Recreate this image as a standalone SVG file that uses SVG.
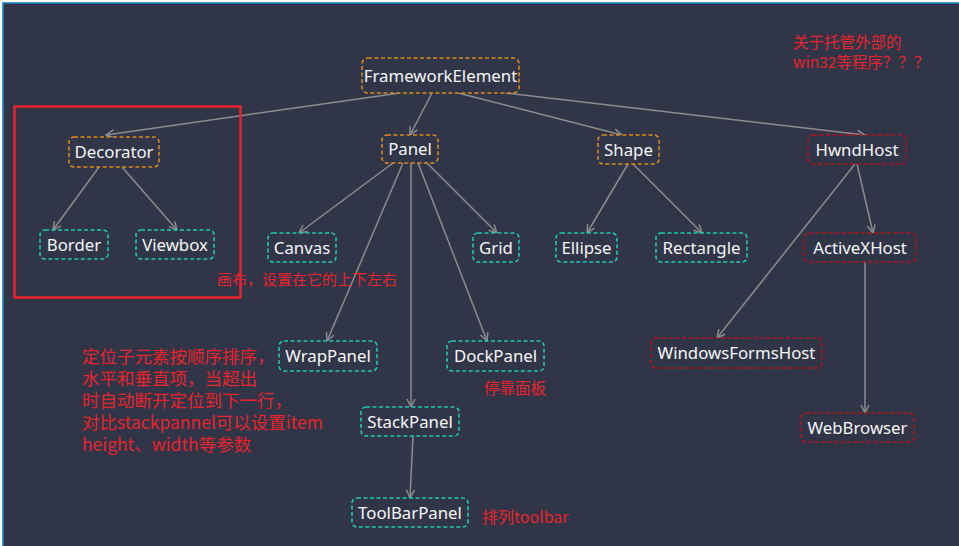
<svg xmlns="http://www.w3.org/2000/svg" width="959" height="546" viewBox="0 0 959 546">
<defs>
<style>
.n rect{fill:#313548;stroke-width:1.6;stroke-dasharray:4 2.5}
.o rect{stroke:#d98a1e}
.t rect{stroke:#21c9b4}
.r rect{stroke:#ad161e}
.n text{fill:#f6f6f6;font-family:"Noto Sans","Open Sans",sans-serif;font-size:16.8px;text-anchor:middle}
.c line{stroke:#8c8c8c;stroke-width:1.5;marker-end:url(#ah)}
.a{fill:#e8232b;font-family:"Noto Sans CJK SC","Noto Sans",sans-serif}
</style>
<marker id="ah" viewBox="0 0 10 10" refX="9" refY="5" markerWidth="10" markerHeight="10" markerUnits="userSpaceOnUse" orient="auto">
<path d="M1,1 L9,5 L1,9" fill="none" stroke="#8c8c8c" stroke-width="1.5"/>
</marker>
</defs>
<rect x="0" y="0" width="959" height="546" fill="#ffffff"/>
<rect x="3" y="3" width="960" height="550" fill="#313548" stroke="#1a86c8" stroke-width="1.6"/>

<g id="connectors" class="c">
<line x1="400" y1="93" x2="106" y2="135"/>
<line x1="432" y1="93" x2="410" y2="135"/>
<line x1="458" y1="93" x2="622" y2="135"/>
<line x1="505" y1="93" x2="865" y2="135"/>
<line x1="99" y1="167" x2="53" y2="230"/>
<line x1="122" y1="167" x2="177" y2="230"/>
<line x1="393" y1="163" x2="299" y2="233"/>
<line x1="403" y1="163" x2="327" y2="341"/>
<line x1="411" y1="163" x2="411" y2="407"/>
<line x1="418" y1="163" x2="487" y2="341"/>
<line x1="427" y1="163" x2="497" y2="233"/>
<line x1="628" y1="164" x2="587" y2="233"/>
<line x1="633" y1="164" x2="702" y2="233"/>
<line x1="857" y1="164" x2="873" y2="233"/>
<line x1="855" y1="164" x2="717" y2="338"/>
<line x1="865" y1="262" x2="865" y2="413"/>
<line x1="413" y1="436" x2="410" y2="498"/>
</g>

<g id="FrameworkElement" class="n o"><rect x="362" y="58" width="157" height="35" rx="6"/><text x="440.5" y="81.5">FrameworkElement</text></g>
<g id="Decorator" class="n o"><rect x="69" y="137" width="90" height="30" rx="5"/><text x="114" y="158">Decorator</text></g>
<g id="Panel" class="n o"><rect x="382" y="135" width="56" height="28" rx="5"/><text x="410" y="155">Panel</text></g>
<g id="Shape" class="n o"><rect x="598" y="135" width="61" height="29" rx="5"/><text x="628.5" y="155.5">Shape</text></g>
<g id="HwndHost" class="n r"><rect x="808" y="135" width="98" height="29" rx="5"/><text x="857" y="155.5">HwndHost</text></g>
<g id="Border" class="n t"><rect x="40" y="230" width="68" height="29" rx="5"/><text x="74" y="250.5">Border</text></g>
<g id="Viewbox" class="n t"><rect x="136" y="230" width="78" height="29" rx="5"/><text x="175" y="250.5">Viewbox</text></g>
<g id="Canvas" class="n t"><rect x="268" y="233" width="68" height="29" rx="5"/><text x="302" y="253.5">Canvas</text></g>
<g id="Grid" class="n t"><rect x="473" y="233" width="46" height="29" rx="5"/><text x="496" y="253.5">Grid</text></g>
<g id="Ellipse" class="n t"><rect x="556" y="233" width="61" height="29" rx="5"/><text x="586.5" y="253.5">Ellipse</text></g>
<g id="Rectangle" class="n t"><rect x="656" y="233" width="91" height="29" rx="5"/><text x="701.5" y="253.5">Rectangle</text></g>
<g id="ActiveXHost" class="n r"><rect x="804" y="233" width="112" height="29" rx="5"/><text x="860" y="253.5">ActiveXHost</text></g>
<g id="WrapPanel" class="n t"><rect x="279" y="341" width="98" height="30" rx="5"/><text x="328" y="362">WrapPanel</text></g>
<g id="DockPanel" class="n t"><rect x="447" y="341" width="97" height="30" rx="5"/><text x="495.5" y="362">DockPanel</text></g>
<g id="WindowsFormsHost" class="n r"><rect x="651" y="338" width="171" height="30" rx="5"/><text x="736.5" y="359">WindowsFormsHost</text></g>
<g id="StackPanel" class="n t"><rect x="361" y="407" width="98" height="29" rx="5"/><text x="410" y="427.5">StackPanel</text></g>
<g id="WebBrowser" class="n r"><rect x="801" y="413" width="113" height="29" rx="5"/><text x="857.5" y="433.5">WebBrowser</text></g>
<g id="ToolBarPanel" class="n t"><rect x="352" y="498" width="116" height="29" rx="5"/><text x="410" y="518.5">ToolBarPanel</text></g>

<rect id="decorator-frame" x="14.5" y="106.5" width="226" height="191" fill="none" stroke="#e8232b" stroke-width="2.5"/>

<g id="notes">
<text class="a" font-size="15.5"><tspan x="793" y="48">关于托管外部的</tspan><tspan x="793" y="68">win32等程序？？？</tspan></text>
<text class="a" font-size="15" x="217" y="285">画布，设置在它的上下左右</text>
<text class="a" font-size="17.5"><tspan x="82" y="363">定位子元素按顺序排序，</tspan><tspan x="82" y="385">水平和垂直项，当超出</tspan><tspan x="82" y="407">时自动断开定位到下一行，</tspan><tspan x="82" y="429">对比stackpannel可以设置item</tspan><tspan x="82" y="451">height、width等参数</tspan></text>
<text class="a" font-size="15.5" x="484" y="394">停靠面板</text>
<text class="a" font-size="16" x="482" y="523">排列toolbar</text>
</g>
</svg>
